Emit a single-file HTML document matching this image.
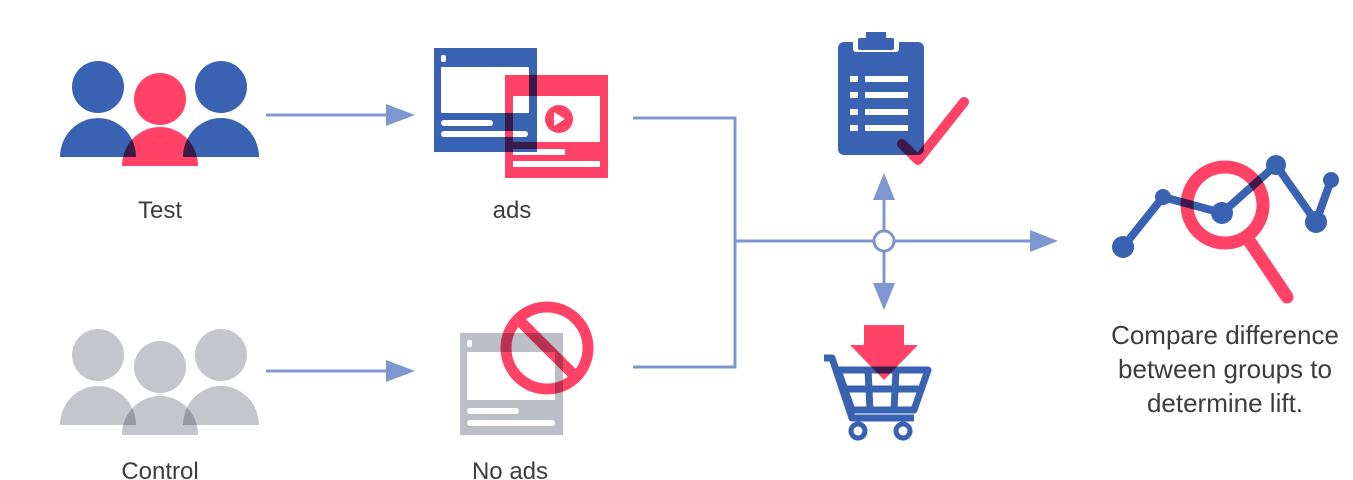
<!DOCTYPE html>
<html><head><style>
html,body{margin:0;padding:0;background:#fff;}
svg{display:block;}
text{font-family:"Liberation Sans",sans-serif;fill:#3d3d3d;}
.m{mix-blend-mode:multiply;}
</style></head><body>
<svg width="1353" height="480" viewBox="0 0 1353 480" xmlns="http://www.w3.org/2000/svg">
<rect width="1353" height="480" fill="#fff"/>
<!-- Test people -->
<circle cx="98" cy="87" r="26" fill="#3a62b3"/>
<circle cx="221" cy="87" r="26" fill="#3a62b3"/>
<path d="M60,157 A38,39 0 0 1 136,157 Z" fill="#3a62b3"/>
<path d="M183,157 A38,39 0 0 1 259,157 Z" fill="#3a62b3"/>
<g class="m">
<circle cx="160" cy="99" r="26" fill="#ff4266"/>
<path d="M122,166 A38,39 0 0 1 198,166 Z" fill="#ff4266"/>
</g>

<!-- Control people -->
<g fill="#c4c6cc">
<circle cx="98" cy="355" r="26"/>
<circle cx="221" cy="355" r="26"/>
<path d="M60,425 A38,39 0 0 1 136,425 Z"/>
<path d="M183,425 A38,39 0 0 1 259,425 Z"/>
</g>
<g class="m" fill="#c4c6cc">
<circle cx="160" cy="367" r="26"/>
<path d="M122,435 A38,39 0 0 1 198,435 Z"/>
</g>

<!-- arrows left -->
<g fill="#7f97d0" stroke="#7f97d0">
<line x1="266" y1="115" x2="390" y2="115" stroke-width="3"/>
<polygon points="386,104 415,115 386,126" stroke="none"/>
<line x1="266" y1="371" x2="390" y2="371" stroke-width="3"/>
<polygon points="386,360 415,371 386,382" stroke="none"/>
</g>

<!-- ads -->
<rect x="434" y="48" width="103" height="104" fill="#3a62b3"/>
<rect x="441" y="55" width="5" height="7" rx="2" fill="#fff"/>
<rect x="441" y="67" width="88" height="46" rx="1" fill="#fff"/>
<rect x="441" y="120" width="52" height="6" rx="3" fill="#fff"/>
<rect x="441" y="131" width="87" height="6" rx="3" fill="#fff"/>
<g class="m">
<path d="M505,75 H608 V178 H505 Z M513,96 V142 H600 V96 Z M513,149 V155 H565 V149 Z M513,161 V167 H600 V161 Z" fill="#ff4266" fill-rule="evenodd"/>
<circle cx="559" cy="119" r="14" fill="#ff4266"/>
</g>
<polygon points="554,112 565,119 554,126" fill="#fff"/>

<!-- No ads -->
<rect x="460" y="333" width="103" height="102" fill="#bcbec5"/>
<rect x="467" y="340" width="5" height="7" rx="2" fill="#fff"/>
<rect x="467" y="352" width="88" height="48" fill="#fff"/>
<rect x="467" y="408" width="52" height="6" rx="3" fill="#fff"/>
<rect x="467" y="420" width="88" height="6" rx="3" fill="#fff"/>
<g class="m">
<circle cx="547" cy="348" r="41" fill="none" stroke="#ff4266" stroke-width="11"/>
<line x1="519" y1="320" x2="575" y2="376" stroke="#ff4266" stroke-width="11"/>
</g>

<!-- connectors -->
<g stroke="#7f97d0" stroke-width="3" fill="none">
<polyline points="633,118 735,118 735,367 633,367"/>
<line x1="735" y1="241" x2="1032" y2="241"/>
<line x1="884" y1="198" x2="884" y2="285"/>
</g>
<g fill="#7f97d0">
<polygon points="1030,230 1058,241 1030,252"/>
<polygon points="873,200 884,173 895,200"/>
<polygon points="873,283 884,310 895,283"/>
</g>
<circle cx="884" cy="241" r="10" fill="#fff" stroke="#7f97d0" stroke-width="3"/>

<!-- clipboard -->
<rect x="838" y="42" width="86" height="113" rx="6" fill="#3a62b3"/>
<rect x="853" y="40" width="46" height="12" rx="3" fill="#fff"/>
<rect x="858" y="38" width="36" height="12" rx="2" fill="#3a62b3"/>
<rect x="866" y="32" width="20" height="8" fill="#3a62b3"/>
<g fill="#fff">
<rect x="850" y="76" width="8" height="6"/><rect x="865" y="76" width="43" height="6"/>
<rect x="850" y="92" width="8" height="6"/><rect x="865" y="92" width="43" height="6"/>
<rect x="850" y="109" width="8" height="6"/><rect x="865" y="109" width="43" height="6"/>
<rect x="850" y="125" width="8" height="6"/><rect x="865" y="125" width="43" height="6"/>
</g>
<polyline class="m" points="902,144 918,160 964,102" fill="none" stroke="#ff4266" stroke-width="10" stroke-linecap="round" stroke-linejoin="round"/>

<!-- cart -->
<g fill="none" stroke="#3a62b3" stroke-width="7" stroke-linejoin="round">
<polyline points="824,358 832,358 852,418 914,418"/>
<polygon points="838,370 928,370 914,410 852,410"/>
<line x1="843" y1="389" x2="922" y2="389"/>
<line x1="868" y1="370" x2="870" y2="410"/>
<line x1="896" y1="370" x2="894" y2="410"/>
</g>
<circle cx="858" cy="431" r="7" fill="#fff" stroke="#3a62b3" stroke-width="5"/>
<circle cx="903" cy="431" r="7" fill="#fff" stroke="#3a62b3" stroke-width="5"/>
<g class="m" fill="#ff4266">
<path d="M864,325 H904 V345 H918 L884,380 L850,345 H864 Z"/>
</g>

<!-- chart -->
<polyline points="1123,247 1163,197 1222,213 1276,165 1316,222 1331,180" fill="none" stroke="#3a62b3" stroke-width="8" stroke-linejoin="round"/>
<g fill="#3a62b3">
<circle cx="1123" cy="247" r="11"/><circle cx="1163" cy="197" r="8"/>
<circle cx="1222" cy="213" r="11"/><circle cx="1276" cy="165" r="10"/>
<circle cx="1316" cy="222" r="11"/><circle cx="1331" cy="180" r="8"/>
</g>
<g class="m">
<circle cx="1225" cy="205" r="38" fill="none" stroke="#ff4266" stroke-width="13"/>
<line x1="1250" y1="242" x2="1287" y2="297" stroke="#ff4266" stroke-width="13" stroke-linecap="round"/>
</g>

<!-- labels -->
<g font-size="24" text-anchor="middle">
<text x="160" y="218">Test</text>
<text x="512" y="218">ads</text>
<text x="160" y="479">Control</text>
<text x="510" y="479">No ads</text>
</g>
<g font-size="26" text-anchor="middle">
<text x="1225" y="344">Compare difference</text>
<text x="1225" y="378">between groups to</text>
<text x="1225" y="412">determine lift.</text>
</g>
</svg>
</body></html>
